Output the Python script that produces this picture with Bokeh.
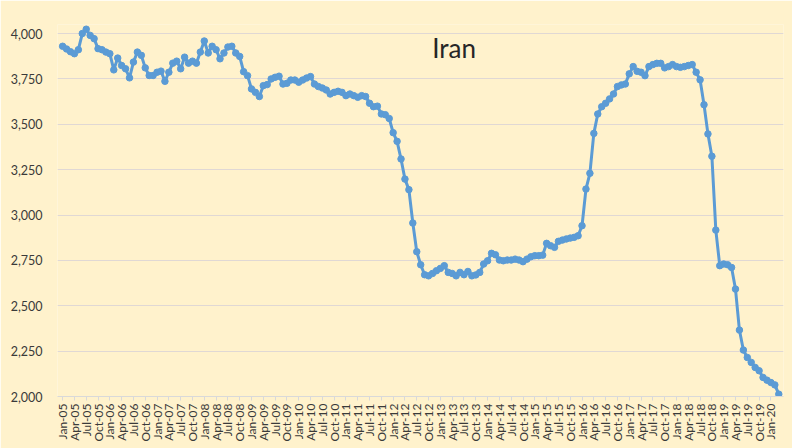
import math
import pandas as pd
from bokeh.plotting import figure
from bokeh.models import Label, FixedTicker, NumeralTickFormatter, Range1d
from bokeh.embed import file_html
from bokeh.resources import INLINE

# Monthly categories Jan-05 .. Mar-20
months = [d.strftime("%b-%y") for d in pd.date_range("2005-01-01", "2020-03-01", freq="MS")]

# Production values (thousand barrels/day)
values = [
    3930, 3915, 3900, 3889, 3911, 4000, 4024, 3990, 3972, 3917, 3911, 3898,  # 2005
    3889, 3800, 3865, 3824, 3806, 3756, 3843, 3898, 3880, 3811, 3769, 3769,  # 2006
    3787, 3793, 3737, 3787, 3837, 3848, 3806, 3870, 3837, 3848, 3837, 3898,  # 2007
    3959, 3893, 3930, 3911, 3861, 3893, 3926, 3930, 3893, 3874, 3790, 3768,  # 2008
    3695, 3676, 3653, 3713, 3719, 3750, 3759, 3765, 3722, 3726, 3744, 3744,  # 2009
    3732, 3744, 3755, 3763, 3722, 3708, 3700, 3689, 3667, 3676, 3682, 3676,  # 2010
    3658, 3667, 3658, 3649, 3658, 3653, 3616, 3597, 3600, 3557, 3553, 3532,  # 2011
    3454, 3406, 3309, 3198, 3140, 2956, 2798, 2726, 2671, 2665, 2678, 2693,  # 2012
    2706, 2721, 2684, 2678, 2665, 2684, 2671, 2689, 2665, 2670, 2684, 2730,  # 2013
    2748, 2789, 2781, 2752, 2748, 2752, 2752, 2757, 2752, 2743, 2757, 2770,  # 2014
    2776, 2776, 2779, 2844, 2831, 2822, 2855, 2862, 2868, 2873, 2877, 2886,  # 2015
    2941, 3143, 3230, 3450, 3557, 3597, 3616, 3640, 3667, 3708, 3717, 3722,  # 2016
    3778, 3818, 3792, 3787, 3768, 3818, 3829, 3836, 3836, 3811, 3818, 3829,  # 2017
    3818, 3814, 3818, 3824, 3829, 3787, 3745, 3608, 3447, 3324, 2917, 2721,  # 2018
    2730, 2726, 2711, 2592, 2366, 2256, 2215, 2188, 2160, 2142, 2105, 2090,  # 2019
    2077, 2064, 2013,                                                        # 2020
]

y_ticks = [2000, 2250, 2500, 2750, 3000, 3250, 3500, 3750, 4000]
title_text = "Iran"

xs = list(range(len(months)))
tick_idx = xs[::3]

BG = "#FFF2CC"
LINE = "#5B9BD5"
FONT = "Lato"
TXT = "#3A3A3A"

p = figure(width=792, height=448, output_backend="svg", toolbar_location=None,
           x_range=Range1d(-1.3, len(months) + 0.2), y_range=Range1d(2000, 4050),
           min_border_left=57, min_border_right=9, min_border_top=24, min_border_bottom=52)
p.background_fill_color = BG
p.border_fill_color = BG
p.outline_line_color = None

p.line(xs, values, line_color=LINE, line_width=3)
p.scatter(xs, values, size=6.5, fill_color=LINE, line_color=LINE)

p.xgrid.visible = False
p.ygrid.grid_line_color = "#E0D8D4"
p.ygrid.grid_line_width = 1

p.yaxis.ticker = FixedTicker(ticks=y_ticks)
p.yaxis.formatter = NumeralTickFormatter(format="0,0")
p.yaxis.axis_line_color = None
p.yaxis.major_tick_line_color = None
p.yaxis.minor_tick_line_color = None
p.yaxis.major_label_text_font = FONT
p.yaxis.major_label_text_font_size = "12.5px"
p.yaxis.major_label_text_color = TXT
p.yaxis.major_label_standoff = 9

p.xaxis.ticker = FixedTicker(ticks=tick_idx)
p.xaxis.major_label_overrides = {i: months[i] for i in tick_idx}
p.xaxis.major_label_orientation = math.pi / 2
p.xaxis.axis_line_color = "#D9D9D9"
p.xaxis.major_tick_line_color = "#D9D9D9"
p.xaxis.major_tick_in = 0
p.xaxis.major_tick_out = 4
p.xaxis.minor_tick_line_color = None
p.xaxis.major_label_text_font = FONT
p.xaxis.major_label_text_font_size = "12px"
p.xaxis.major_label_text_color = TXT
p.xaxis.major_label_standoff = 3

p.add_layout(Label(x=99.5, y=3922, text=title_text, text_align="center",
                   text_baseline="middle", text_font=FONT, text_font_size="26px",
                   text_color="#262626"))

open("out.html", "w").write(file_html(p, INLINE))
